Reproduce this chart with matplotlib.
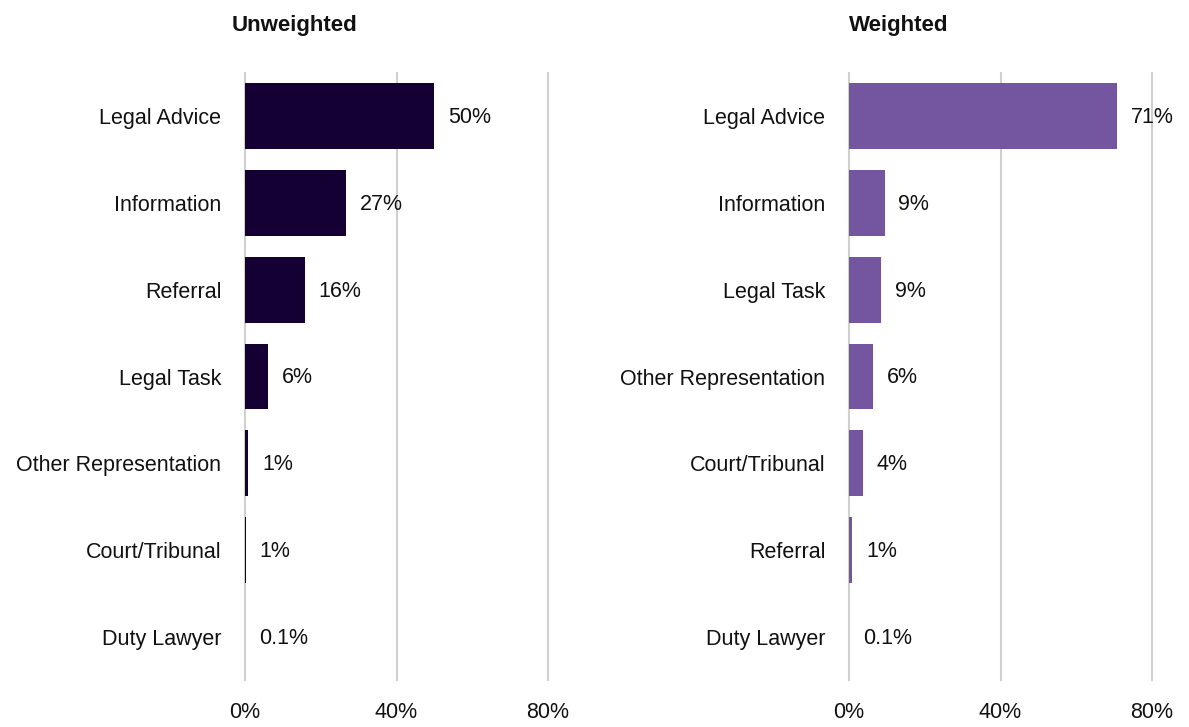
import matplotlib
matplotlib.use('Agg')
import matplotlib.pyplot as plt

# ── data ────────────────────────────────────────────────────────────────
unw_cats   = ["Legal Advice", "Information", "Referral", "Legal Task",
              "Other Representation", "Court/Tribunal", "Duty Lawyer"]
unw_vals   = [49.9, 26.7, 15.8, 6.1, 0.8, 0.2, 0.1]
unw_labels = ["50%", "27%", "16%", "6%", "1%", "1%", "0.1%"]

w_cats   = ["Legal Advice", "Information", "Legal Task", "Other Representation",
            "Court/Tribunal", "Referral", "Duty Lawyer"]
w_vals   = [70.8, 9.4, 8.4, 6.3, 3.7, 0.8, 0.1]
w_labels = ["71%", "9%", "9%", "6%", "4%", "1%", "0.1%"]

x_ticks  = [0, 40, 80]
x_labels = ["0%", "40%", "80%"]

plt.rcParams['font.family'] = ['Liberation Sans', 'DejaVu Sans']

fig = plt.figure(figsize=(11.89, 7.27), dpi=100)
W, H = 1189, 727
TXT = "#111111"

def panel(left_px, cats, vals, labels, color, title, title_px):
    ax = fig.add_axes([left_px / W, 1 - 680 / H, 303 / W, 607 / H])
    y = list(range(len(cats)))
    ax.barh(y, vals, height=0.76, color=color, zorder=3)
    ax.set_ylim(len(cats) - 0.5, -0.5)
    ax.set_xlim(0, 80)
    ax.set_yticks(y)
    ax.set_yticklabels(cats, fontsize=15.5, color=TXT)
    ax.set_xticks(x_ticks)
    ax.set_xticklabels(x_labels, fontsize=15.5, color=TXT)
    ax.tick_params(axis='both', length=0)
    ax.tick_params(axis='y', pad=17)
    ax.tick_params(axis='x', pad=16)
    for s in ax.spines.values():
        s.set_visible(False)
    for xt in x_ticks:
        ax.axvline(xt, color="#d0d0d0", linewidth=1.5, zorder=0, clip_on=False)
    for yi, v, lab in zip(y, vals, labels):
        ax.annotate(lab, (v, yi), xytext=(10, -1), textcoords='offset points',
                    ha='left', va='center', fontsize=15.5, color=TXT)
    fig.text(title_px / W, 1 - 26 / H, title, fontsize=16,
             fontweight='bold', ha='left', va='center', color=TXT)
    return ax

panel(245, unw_cats, unw_vals, unw_labels, "#150033", "Unweighted", 232)
panel(849, w_cats, w_vals, w_labels, "#74559f", "Weighted", 849)

fig.savefig("out.png", dpi=100)
